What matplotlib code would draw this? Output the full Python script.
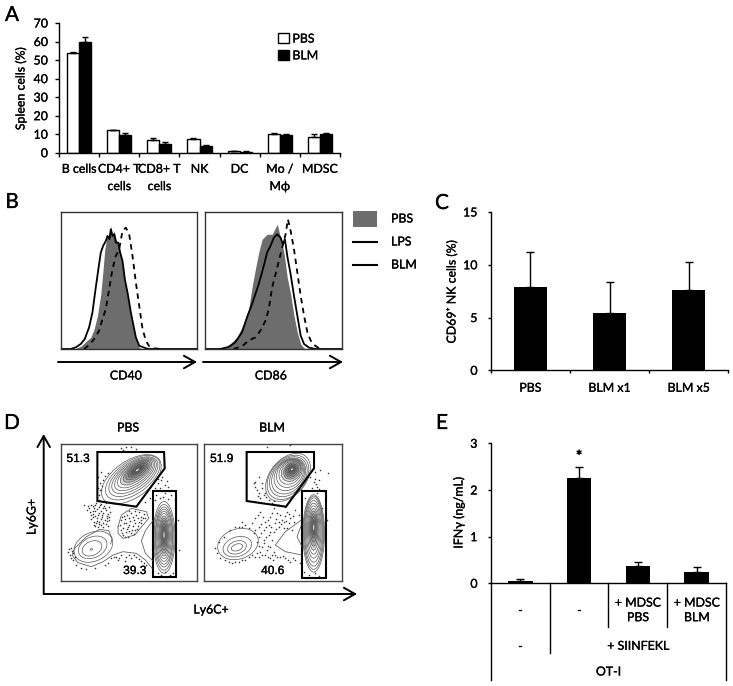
import matplotlib
matplotlib.use("Agg")
import matplotlib.pyplot as plt
from matplotlib.patches import Ellipse, Polygon, Rectangle
from matplotlib.patheffects import withStroke
from matplotlib.text import Text

plt.rcParams['font.family'] = ['Lato', 'DejaVu Sans']
plt.rcParams['font.size'] = 8.9
plt.rcParams['axes.linewidth'] = 1.0

W = 733
H = 686

# panel A
cellTypes = ['B cells', 'CD4+ T\ncells', 'CD8+ T\ncells', 'NK', 'DC', 'Mo /\nMϕ', 'MDSC']
pbsCells = [54, 12, 7, 7.2, 0.7, 10, 8.5]
blmCells = [59.8, 9.5, 4.8, 3.8, 0.6, 9.8, 10.2]
pbsCellsErr = [0.5, 0.3, 0.7, 0.5, 0.1, 0.7, 1.8]
blmCellsErr = [2.8, 1.3, 1.0, 0.3, 0.1, 0.2, 0.6]

# panel B, histograms (position, height)
cd40PbsX = [40, 60, 75, 90, 100, 110, 120, 127, 132, 138, 145, 150, 155, 160, 170, 180, 187, 195, 205, 215, 225, 235, 245]
cd40PbsY = [0, 8, 22, 35, 60, 100, 165, 240, 300, 335, 345, 370, 345, 355, 315, 280, 230, 190, 120, 80, 30, 5, 0]
cd40LpsX = [0, 30, 45, 60, 72, 85, 95, 105, 112, 120, 127, 135, 140, 146, 150, 155, 160, 165, 172, 178, 185, 192, 200, 210, 218, 225, 235, 250, 262, 408]
cd40LpsY = [0, 0, 5, 15, 30, 65, 110, 185, 235, 290, 310, 325, 340, 330, 360, 340, 345, 320, 320, 290, 265, 210, 170, 110, 70, 35, 10, 4, 0, 0]
cd40BlmX = [70, 85, 100, 115, 125, 135, 145, 155, 165, 175, 185, 195, 205, 215, 225, 235, 245, 255, 265, 280, 300]
cd40BlmY = [0, 12, 30, 55, 90, 120, 180, 240, 280, 300, 355, 365, 345, 280, 200, 130, 60, 25, 8, 2, 0]
cd86PbsX = [50, 75, 95, 115, 130, 140, 150, 160, 170, 185, 200, 215, 225, 235, 245, 255, 265, 275, 285, 295, 305]
cd86PbsY = [0, 15, 35, 75, 120, 185, 240, 290, 330, 345, 345, 375, 335, 290, 215, 165, 100, 50, 15, 3, 0]
cd86LpsX = [0, 45, 70, 90, 110, 125, 140, 150, 160, 175, 185, 195, 205, 215, 225, 232, 238, 245, 255, 265, 275, 285, 295, 310, 330, 408]
cd86LpsY = [0, 0, 6, 20, 50, 95, 135, 165, 195, 250, 290, 310, 335, 345, 335, 315, 330, 280, 225, 160, 100, 40, 15, 4, 0, 0]
cd86BlmX = [85, 110, 130, 150, 165, 180, 190, 200, 210, 220, 230, 240, 247, 255, 265, 275, 285, 295, 305, 315, 325, 340, 355]
cd86BlmY = [0, 8, 25, 35, 55, 85, 120, 185, 225, 265, 305, 345, 390, 355, 300, 230, 160, 100, 50, 25, 12, 2, 0]

# panel C
nkGroups = ['PBS', 'BLM x1', 'BLM x5']
nkValues = [7.9, 5.45, 7.65]
nkErr = [3.3, 2.95, 2.65]

# panel D, gates and contour levels as (x, y, width, height) in the flow plot
pbsGate = [(118, 36), (318, 36), (320, 85), (235, 200), (118, 183)]
blmGate = [(134, 36), (336, 36), (336, 85), (252, 200), (134, 183)]
pbsRect = (284, 154, 355, 412)
blmRect = (299, 154, 371, 413)
pbsGrLevels = [(238, 90, 35, 10), (238, 90, 50, 16), (238, 91, 65, 24), (237, 93, 80, 32), (236, 95, 95, 40), (234, 98, 110, 48),
               (232, 101, 125, 56), (230, 104, 140, 64), (228, 107, 155, 74), (226, 110, 170, 84), (224, 113, 188, 96), (220, 118, 205, 110)]
pbsMoLevels = [(318, 285, 8, 50), (318, 285, 14, 70), (318, 286, 20, 90), (318, 287, 26, 105), (318, 288, 32, 120), (318, 288, 38, 135),
               (318, 289, 44, 150), (318, 290, 50, 165), (318, 291, 54, 180), (318, 292, 60, 197), (318, 292, 66, 215)]
pbsLowLevels = [(100, 328, 7, 5), (102, 325, 62, 42), (104, 322, 90, 62), (106, 320, 122, 86)]
blmGrLevels = [(270, 88, 18, 12), (270, 88, 28, 20), (270, 89, 38, 28), (270, 90, 48, 36), (270, 91, 58, 44), (268, 93, 68, 54), (266, 96, 80, 62),
               (264, 100, 92, 72), (262, 104, 106, 80), (260, 108, 120, 88), (259, 110, 134, 96), (258, 112, 150, 104), (258, 112, 165, 108)]
blmMoLevels = [(335, 262, 8, 45), (335, 262, 14, 65), (335, 264, 20, 85), (335, 266, 26, 105), (335, 268, 32, 125), (335, 270, 38, 145),
               (335, 272, 44, 165), (335, 274, 50, 185), (335, 276, 55, 205), (335, 278, 60, 220), (335, 280, 65, 232)]
blmLowLevels = [(105, 322, 35, 20), (105, 322, 58, 38), (106, 320, 88, 58), (108, 312, 125, 90)]
pbsOutline1 = [(50, 325), (42, 345), (60, 368), (100, 380), (135, 365), (165, 345), (195, 335), (235, 340), (262, 360), (282, 385)]
pbsOutline2 = [(50, 325), (85, 290), (125, 268), (152, 272), (162, 295), (158, 312)]
pbsOutline3 = [(286, 240), (262, 272), (250, 302), (262, 340), (284, 362)]
pbsBlob = [(180, 260), (190, 225), (220, 205), (265, 215), (272, 235), (255, 255), (230, 285), (195, 295), (180, 280), (180, 260)]
blmOutline1 = [(298, 240), (250, 275), (220, 315), (250, 335), (300, 345)]
blmOutline2 = [(298, 255), (285, 290), (300, 320)]
pbsDots = [(100, 195), (108, 205), (115, 190), (122, 200), (130, 192), (138, 198), (145, 190), (152, 200), (96, 215), (104, 222), (112, 214),
           (120, 225), (128, 212), (136, 220), (144, 210), (150, 222), (156, 215), (100, 238), (108, 245), (116, 235), (124, 245), (132, 232),
           (140, 240), (148, 235), (154, 240), (112, 258), (120, 262), (128, 255), (136, 260), (144, 252), (150, 258), (94, 205), (86, 210),
           (78, 195), (122, 180), (190, 240), (198, 228), (205, 250), (212, 235), (220, 220), (228, 240), (235, 225), (242, 245), (250, 230),
           (258, 222), (195, 265), (203, 275), (210, 262), (218, 280), (225, 258), (232, 270), (240, 258), (248, 250), (195, 285), (210, 290),
           (185, 255), (262, 235), (40, 325), (35, 345), (45, 360), (55, 375), (30, 335), (68, 385), (85, 388), (110, 385), (140, 375), (160, 355),
           (175, 350), (190, 345), (205, 350), (220, 355), (235, 350), (250, 362), (265, 375), (180, 360), (200, 362), (150, 368), (45, 340),
           (38, 355), (295, 165), (305, 175), (315, 170), (330, 178), (340, 165), (350, 180), (290, 180), (322, 160), (300, 400), (310, 405),
           (320, 395), (335, 405), (345, 398), (327, 410), (360, 240), (362, 330), (190, 25), (205, 20), (220, 22), (235, 28), (195, 30), (300, 130),
           (310, 120), (320, 135), (330, 140), (305, 145), (275, 175), (290, 145), (120, 110), (125, 130), (130, 150), (122, 165), (135, 120),
           (128, 95), (150, 100), (262, 185),
           (104, 198), (112, 196), (126, 196), (134, 204), (142, 204), (118, 208), (106, 212), (124, 218), (132, 226), (146, 228), (152, 232),
           (112, 228), (104, 232), (118, 242), (128, 238), (136, 248), (146, 244), (122, 252), (114, 248), (108, 254), (98, 226), (90, 198),
           (192, 232), (202, 238), (208, 224), (216, 244), (224, 230), (232, 250), (240, 234), (248, 240), (254, 234), (188, 270), (198, 250),
           (206, 268), (214, 254), (222, 270), (228, 282), (238, 266), (200, 292), (214, 272), (192, 278), (244, 216), (232, 214), (212, 214),
           (168, 352), (184, 354), (212, 346), (228, 346), (244, 356), (258, 368), (50, 350), (42, 332), (34, 326), (296, 150), (312, 152),
           (336, 152), (312, 110), (300, 118), (326, 124), (132, 138), (140, 108), (126, 150), (120, 145)]
blmDots = [(160, 235), (175, 215), (190, 245), (205, 230), (215, 205), (225, 220), (240, 240), (255, 215), (265, 235), (280, 210), (290, 225),
           (170, 260), (185, 270), (200, 255), (215, 275), (230, 260), (245, 265), (260, 250), (275, 245), (155, 280), (170, 290), (185, 300),
           (200, 285), (210, 300), (150, 250), (130, 255), (120, 245), (110, 260), (140, 265), (165, 305), (180, 320), (195, 330), (175, 335),
           (205, 320), (215, 335), (190, 345), (220, 345), (235, 350), (250, 355), (265, 365), (280, 360), (295, 370), (205, 355), (170, 350),
           (150, 345), (130, 360), (110, 365), (90, 368), (70, 360), (55, 355), (45, 340), (40, 325), (50, 305), (65, 290), (85, 270), (100, 262),
           (120, 262), (235, 225), (248, 200), (230, 195), (245, 245), (220, 250), (255, 265), (270, 270), (325, 110), (335, 125), (345, 140),
           (330, 145), (350, 120), (340, 95), (355, 90), (378, 100), (310, 175), (345, 160), (360, 205), (375, 240), (320, 405), (340, 400),
           (352, 408), (305, 395), (170, 110), (180, 130), (165, 150), (155, 130), (185, 165), (200, 180), (175, 175), (210, 190), (225, 195),
           (195, 22), (265, 15), (160, 125), (190, 160), (180, 145),
           (168, 225), (182, 232), (198, 240), (210, 218), (222, 236), (232, 246), (248, 228), (262, 222), (272, 228), (178, 252), (192, 262),
           (208, 262), (222, 266), (238, 252), (252, 242), (160, 270), (178, 280), (192, 292), (205, 275), (172, 318), (186, 310), (198, 318),
           (210, 345), (226, 352), (242, 348), (258, 360), (272, 355), (160, 352), (140, 352), (120, 360), (100, 365), (80, 365), (164, 340),
           (180, 345), (198, 350), (212, 360), (168, 168), (160, 140), (172, 158), (192, 172), (215, 184), (338, 118), (342, 132), (350, 148)]

# panel E
ifnValues = [0.06, 2.25, 0.38, 0.25]
ifnErr = [0.03, 0.25, 0.07, 0.1]
level1Labels = ['-', '-', '+ MDSC\nPBS', '+ MDSC\nBLM']


def pxAxes(left, top, right, bottom):
    return fig.add_axes([left / W, 1 - bottom / H, (right - left) / W, (bottom - top) / H])


def pxText(x, y, s, **kw):
    kw.setdefault('ha', 'center')
    kw.setdefault('va', 'center')
    return fig.text(x / W, 1 - y / H, s, **kw)


def pxArrow(x0, y0, x1, y1):
    overlay.annotate('', xy=(x1, y1), xytext=(x0, y0),
                     arrowprops=dict(arrowstyle='->,head_length=0.8,head_width=0.45', color='k', lw=1.4,
                                     shrinkA=0, shrinkB=0, mutation_scale=10))


def barAxisStyle(ax, tickLen=2.5, yPad=7):
    ax.spines['top'].set_visible(False)
    ax.spines['right'].set_visible(False)
    ax.tick_params(axis='both', length=tickLen, width=1)
    ax.tick_params(axis='y', pad=yPad)
    ax.patch.set_alpha(0)


def drawHist(ax, pbsX, pbsY, lpsX, lpsY, blmX, blmY):
    ax.fill_between(pbsX, pbsY, 0, color='#6d6d6d', lw=0)
    ax.plot(lpsX, lpsY, color='k', lw=1.3)
    ax.plot(blmX, blmY, color='k', lw=1.3, ls=(0, (3, 2.5)))
    ax.set_xlim(0, 408)
    ax.set_ylim(0, 412)
    ax.set_xticks([])
    ax.set_yticks([])
    for s in ax.spines.values():
        s.set_color('#333333')


def drawFlow(ax, xlim, gate, rect, groups, dots, num1, num2, num2x):
    ax.set_xlim(*xlim)
    ax.set_ylim(422, 12)
    ax.set_xticks([])
    ax.set_yticks([])
    for s in ax.spines.values():
        s.set_color('#444444')
    ax.scatter([d[0] for d in dots], [d[1] for d in dots], s=1.3, color='#333333', linewidths=0)
    for levels, angle, shade in groups:
        # biggest level first, only the inner levels get shading
        for i in range(len(levels) - 1, -1, -1):
            cx, cy, w, h = levels[i]
            fill = shade if i < len(levels) // 2 else 0
            ax.add_patch(Ellipse((cx, cy), w, h, angle=angle, fc=(0, 0, 0, fill), ec='#555555', lw=0.5))
        ax.add_patch(Ellipse(levels[0][:2], levels[0][2] * 0.35, levels[0][3] * 0.35, angle=angle, fc='white', ec='none'))
    ax.add_patch(Polygon(gate, closed=True, fill=False, ec='k', lw=1.5))
    ax.add_patch(Rectangle((rect[0], rect[1]), rect[2] - rect[0], rect[3] - rect[1], fill=False, ec='k', lw=1.5))
    ax.text(xlim[0] + 52, 57, num1, family='Liberation Sans', fontsize=8.6, ha='center', va='center')
    ax.text(num2x, 393, num2, family='Liberation Sans', fontsize=8.6, ha='center', va='center')


fig = plt.figure(figsize=(W / 100, H / 100), dpi=100)

overlay = fig.add_axes([0, 0, 1, 1])
overlay.set_xlim(0, W)
overlay.set_ylim(H, 0)
overlay.axis('off')

for letter, x, y in [('A', 12, 15), ('B', 12, 202), ('C', 442, 203), ('D', 12, 423), ('E', 442, 423)]:
    pxText(x, y, letter, fontsize=15)

# A
axA = pxAxes(59, 23, 340, 152.7)
xA = range(len(cellTypes))
bw = 0.3
pbsPos = [i - bw / 2 for i in xA]
blmPos = [i + bw / 2 for i in xA]
barsPbs = axA.bar(pbsPos, pbsCells, bw, color='white', edgecolor='k', lw=1, label='PBS')
barsBlm = axA.bar(blmPos, blmCells, bw, color='k', edgecolor='k', lw=1, label='BLM')
axA.errorbar(pbsPos, pbsCells, yerr=[[0] * 7, pbsCellsErr], fmt='none', ecolor='k', elinewidth=1, capsize=2.5)
axA.errorbar(blmPos, blmCells, yerr=[[0] * 7, blmCellsErr], fmt='none', ecolor='k', elinewidth=1, capsize=2.5)
axA.set_xlim(-0.5, 6.5)
axA.set_ylim(0, 70)
axA.set_yticks(range(0, 71, 10))
axA.set_xticks([i - 0.5 for i in range(8)])
axA.set_xticklabels([])
barAxisStyle(axA, tickLen=3, yPad=5)
for i, label in enumerate(cellTypes):
    axA.text(i, -6, label, ha='center', va='top', linespacing=1.7, clip_on=False)
pxText(21, 89, 'Spleen cells (%)', rotation=90)
axA.legend(handles=[barsPbs, barsBlm], loc='upper left', bbox_to_anchor=(0.78, 0.92), frameon=False,
           handlelength=0.85, handleheight=0.85, handletextpad=0.3, labelspacing=0.45, borderpad=0, borderaxespad=0)

# B
axB1 = pxAxes(60.7, 212, 197, 349)
drawHist(axB1, cd40PbsX, cd40PbsY, cd40LpsX, cd40LpsY, cd40BlmX, cd40BlmY)
axB2 = pxAxes(205, 212, 342, 349)
drawHist(axB2, cd86PbsX, cd86PbsY, cd86LpsX, cd86LpsY, cd86BlmX, cd86BlmY)
pxArrow(58, 362, 197, 362)
pxArrow(203, 362, 343, 362)
pxText(126, 376, 'CD40')
pxText(271, 376, 'CD86')
overlay.add_patch(Rectangle((353, 211), 24, 16, color='#6d6d6d', lw=0))
overlay.plot([353, 377], [242, 242], color='k', lw=1.5)
overlay.plot([353, 377], [265, 265], color='k', lw=1.5)
pxText(391, 219, 'PBS', ha='left')
pxText(391, 242, 'LPS', ha='left')
pxText(391, 265, 'BLM', ha='left')

# C
axC = pxAxes(490.7, 212, 728.3, 370.3)
axC.bar(range(3), nkValues, 0.413, color='k')
axC.errorbar(range(3), nkValues, yerr=[[0] * 3, nkErr], fmt='none', ecolor='k', elinewidth=1, capsize=3)
axC.set_xlim(-0.5, 2.5)
axC.set_ylim(0, 15)
axC.set_yticks([0, 5, 10, 15])
axC.set_xticks([-0.5, 0.5, 1.5, 2.5])
axC.set_xticklabels([])
barAxisStyle(axC)
for i, label in enumerate(nkGroups):
    axC.text(i, -1.7, label, ha='center', va='center', clip_on=False)
pxText(452, 292, 'CD69⁺ NK cells (%)', rotation=90)

# D
axD1 = pxAxes(60.7, 444, 196.7, 580.7)
drawFlow(axD1, (8, 416), pbsGate, pbsRect,
         [(pbsGrLevels, -35, 0.16), (pbsMoLevels, 0, 0.16), (pbsLowLevels, -25, 0)], pbsDots, '51.3', '39.3', 230)
for line in (pbsOutline1, pbsOutline2, pbsOutline3, pbsBlob):
    axD1.plot([p[0] for p in line], [p[1] for p in line], color='#555555', lw=0.55)
axD2 = pxAxes(204.3, 444, 341.7, 580.7)
drawFlow(axD2, (7, 419), blmGate, blmRect,
         [(blmGrLevels, -50, 0.16), (blmMoLevels, 0, 0.16), (blmLowLevels, -18, 0)], blmDots, '51.9', '40.6', 212)
for line in (blmOutline1, blmOutline2):
    axD2.plot([p[0] for p in line], [p[1] for p in line], color='#555555', lw=0.55)
pxText(128, 428, 'PBS')
pxText(272, 428, 'BLM')
pxArrow(43.7, 594, 43.7, 434)
pxArrow(43.7, 594, 357, 594)
pxText(32, 517, 'Ly6G+', rotation=90)
pxText(211, 610, 'Ly6C+')

# E
axE = pxAxes(490.7, 443.3, 726.3, 583.3)
axE.bar(range(4), ifnValues, 0.42, color='k')
axE.errorbar(range(4), ifnValues, yerr=[[0] * 4, ifnErr], fmt='none', ecolor='k', elinewidth=1, capsize=3)
axE.set_xlim(-0.5, 3.5)
axE.set_ylim(0, 3)
axE.set_yticks([0, 1, 2, 3])
axE.set_xticks([])
barAxisStyle(axE)
axE.text(1, 2.7, '*', ha='center', va='center', fontsize=11, fontweight='bold')
for i, label in enumerate(level1Labels):
    axE.text(i, -0.58, label, ha='center', va='center', linespacing=1.4, clip_on=False)
for x, low in [(0.5, -1.5), (1.5, -0.94), (2.5, -0.94), (-0.5, -2.07), (3.5, -2.07)]:
    axE.plot([x, x], [0, low], color='k', lw=1, clip_on=False)
axE.set_ylim(0, 3)
axE.text(0, -1.35, '-', ha='center', va='center', clip_on=False)
axE.text(2, -1.35, '+ SIINFEKL', ha='center', va='center', clip_on=False)
axE.text(1.5, -1.9, 'OT-I', ha='center', va='center', clip_on=False)
pxText(459, 513, 'IFNγ (ng/mL)', rotation=90)

# the reference text looks a little heavier than regular Lato
for t in fig.findobj(Text):
    t.set_path_effects([withStroke(linewidth=0.2, foreground='k')])

fig.savefig('out.png', dpi=100)
